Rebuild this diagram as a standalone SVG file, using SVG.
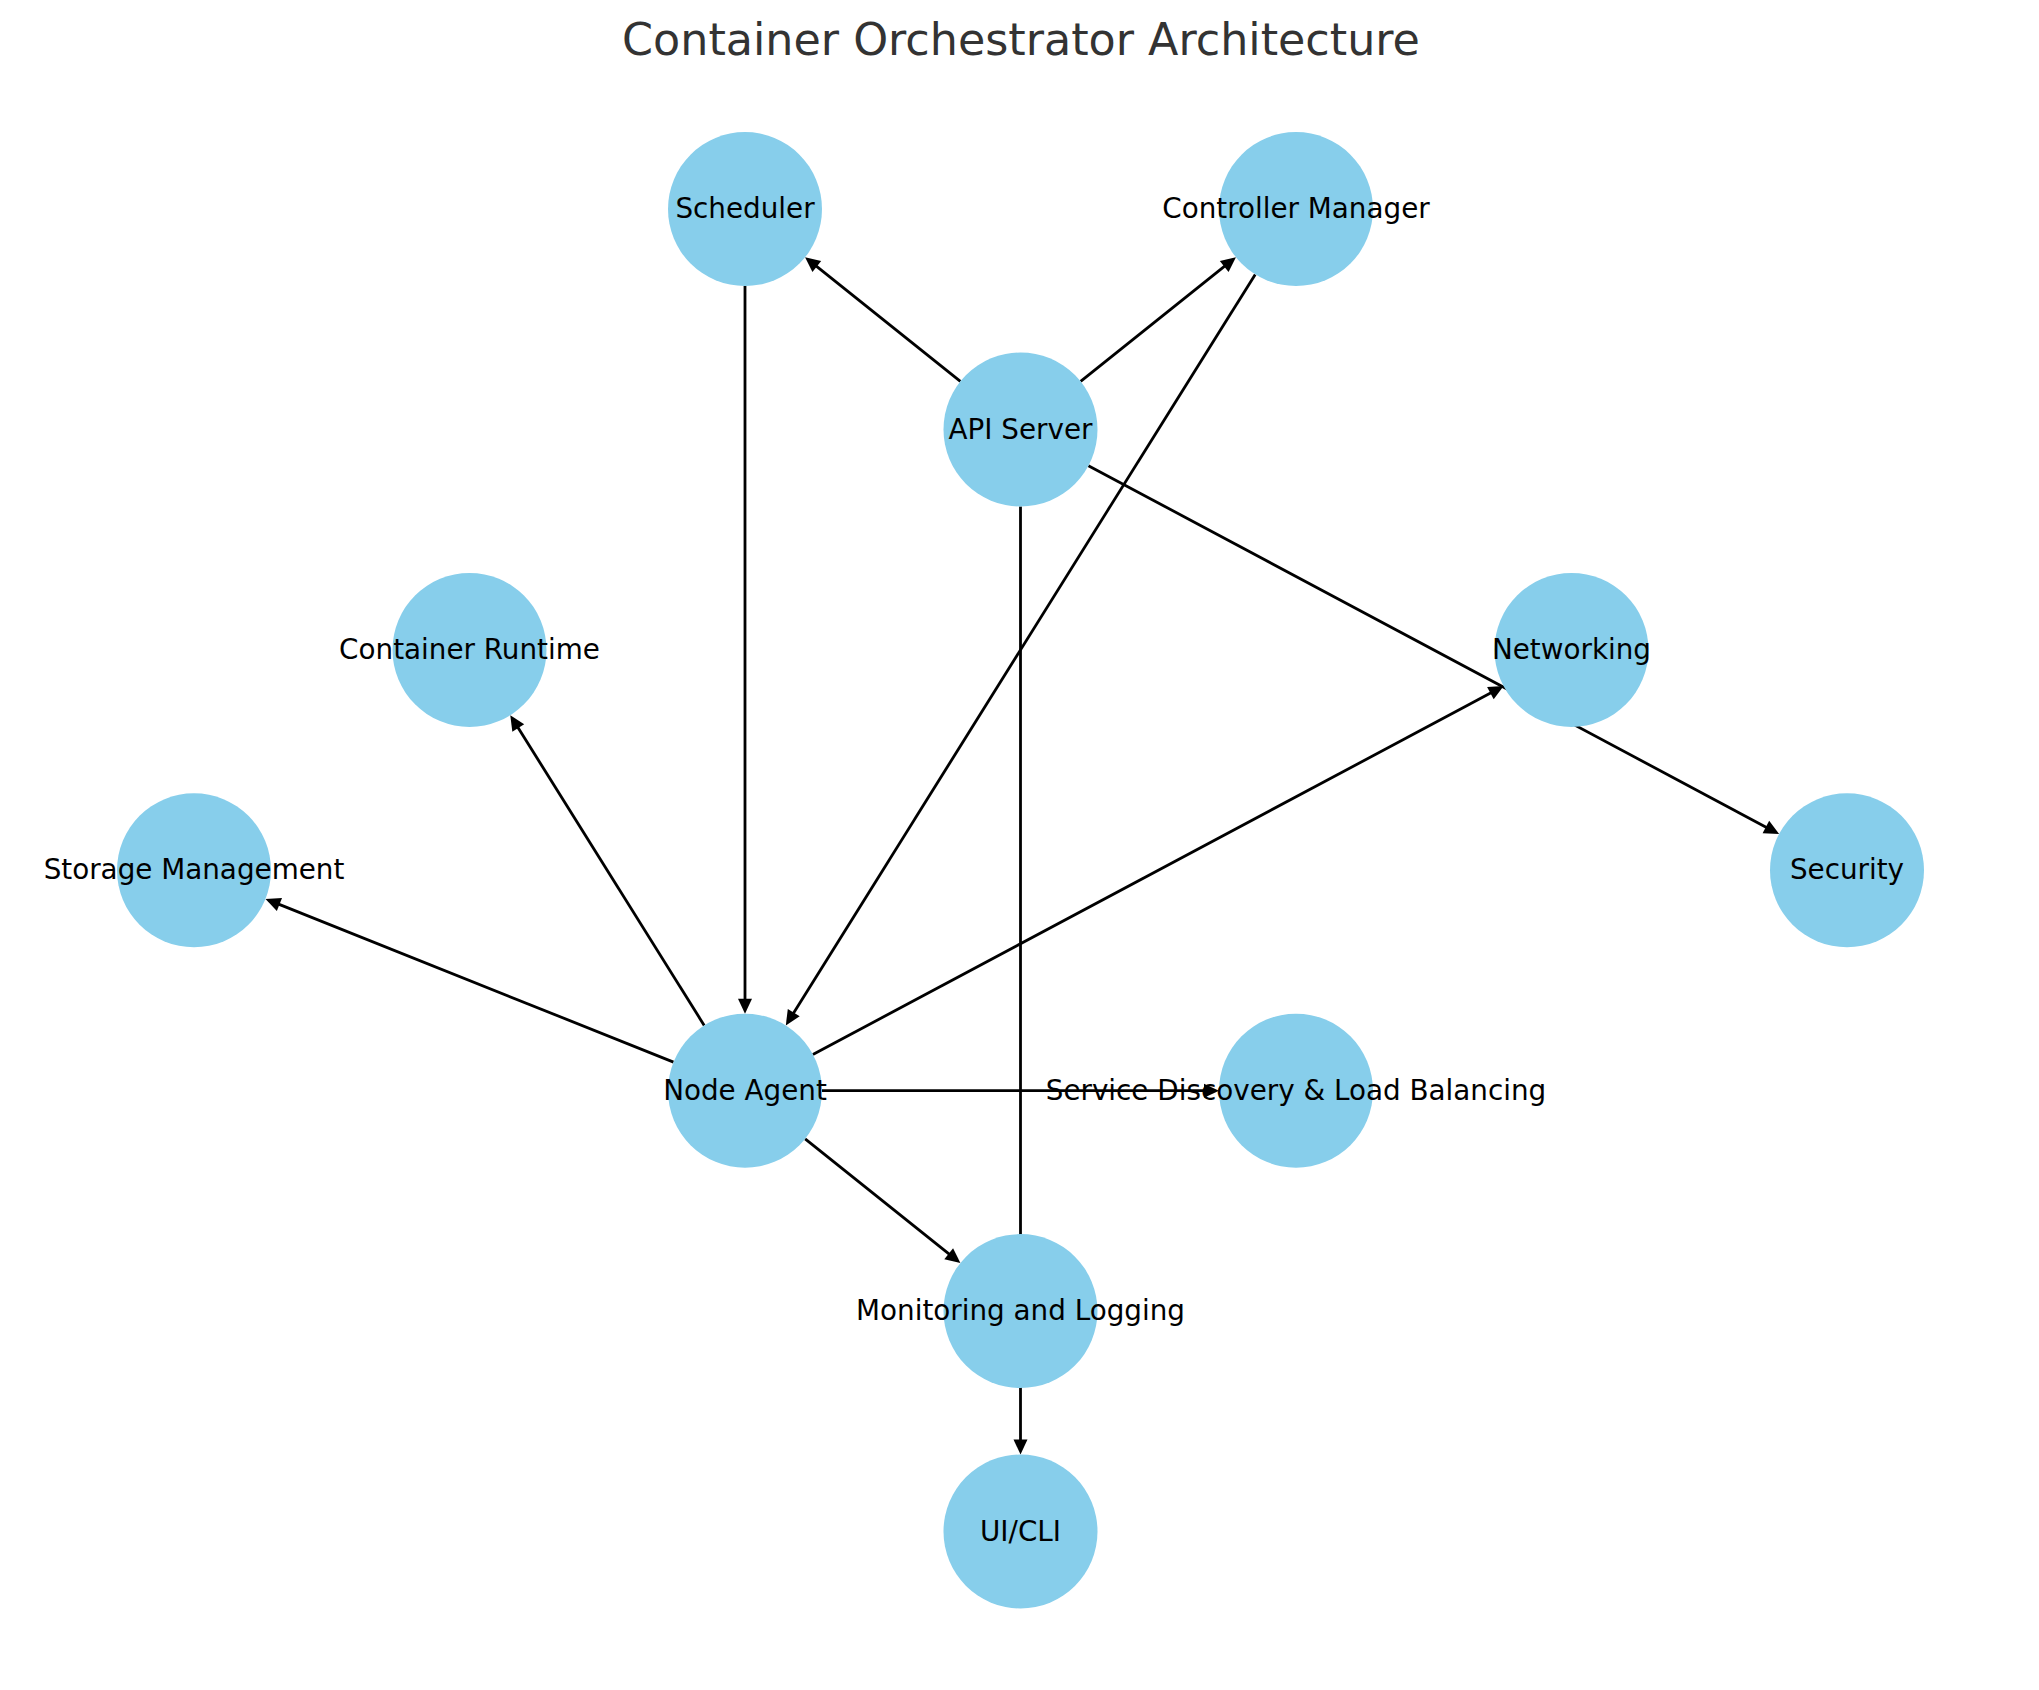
<svg xmlns="http://www.w3.org/2000/svg" width="2039" height="1690" viewBox="0 0 2039 1690">
<style>
.node{fill:#87CEEB;}
.lbl{font-family:"DejaVu Sans",sans-serif;font-size:27.8px;fill:#000;text-anchor:middle;}
.title{font-family:"DejaVu Sans",sans-serif;font-size:44.4px;fill:#333333;text-anchor:middle;}
.edge{stroke:#000;stroke-width:2.8;fill:none;marker-end:url(#arr);}
</style>
<defs>
<marker id="arr" markerUnits="userSpaceOnUse" markerWidth="15" markerHeight="14" refX="5" refY="7" orient="auto" overflow="visible">
<path d="M0,0 L15,7 L0,14 z" fill="#000"/>
</marker>
</defs>
<rect width="2039" height="1690" fill="#fff"/>
<text class="title" x="1021" y="55">Container Orchestrator Architecture</text>
<g id="connectors">
<line class="edge" x1="960.4" y1="381.4" x2="812.9" y2="263.4"/>
<line class="edge" x1="1080.6" y1="381.4" x2="1228.1" y2="263.4"/>
<line class="edge" x1="1088.4" y1="465.7" x2="1770.3" y2="829.4"/>
<line class="edge" x1="1020.5" y1="506.5" x2="1020.5" y2="1444.5"/>
<line class="edge" x1="745" y1="286.1" x2="745" y2="1003.7"/>
<line class="edge" x1="1255.2" y1="274.4" x2="791.1" y2="1016.9"/>
<line class="edge" x1="704.2" y1="1025.4" x2="515.6" y2="723.7"/>
<line class="edge" x1="673.5" y1="1062.1" x2="274.8" y2="902.6"/>
<line class="edge" x1="812.9" y1="1054.5" x2="1494.8" y2="690.8"/>
<line class="edge" x1="822" y1="1090.7" x2="1209" y2="1090.7"/>
<line class="edge" x1="805.1" y1="1138.8" x2="952.6" y2="1256.8"/>
</g>
<g id="scheduler"><circle class="node" cx="745" cy="209.1" r="77"/><text class="lbl" x="745" y="218.1">Scheduler</text></g>
<g id="controller-manager"><circle class="node" cx="1296" cy="209.1" r="77"/><text class="lbl" x="1296" y="218.1">Controller Manager</text></g>
<g id="api-server"><circle class="node" cx="1020.5" cy="429.5" r="77"/><text class="lbl" x="1020.5" y="438.5">API Server</text></g>
<g id="container-runtime"><circle class="node" cx="469.5" cy="649.9" r="77"/><text class="lbl" x="469.5" y="658.9">Container Runtime</text></g>
<g id="networking"><circle class="node" cx="1571.5" cy="649.9" r="77"/><text class="lbl" x="1571.5" y="658.9">Networking</text></g>
<g id="storage-management"><circle class="node" cx="194" cy="870.3" r="77"/><text class="lbl" x="194" y="879.3">Storage Management</text></g>
<g id="security"><circle class="node" cx="1847" cy="870.3" r="77"/><text class="lbl" x="1847" y="879.3">Security</text></g>
<g id="node-agent"><circle class="node" cx="745" cy="1090.7" r="77"/><text class="lbl" x="745" y="1099.7">Node Agent</text></g>
<g id="service-discovery"><circle class="node" cx="1296" cy="1090.7" r="77"/><text class="lbl" x="1296" y="1099.7">Service Discovery &amp; Load Balancing</text></g>
<g id="monitoring-logging"><circle class="node" cx="1020.5" cy="1311.1" r="77"/><text class="lbl" x="1020.5" y="1320.1">Monitoring and Logging</text></g>
<g id="ui-cli"><circle class="node" cx="1020.5" cy="1531.5" r="77"/><text class="lbl" x="1020.5" y="1540.5">UI/CLI</text></g>
</svg>
